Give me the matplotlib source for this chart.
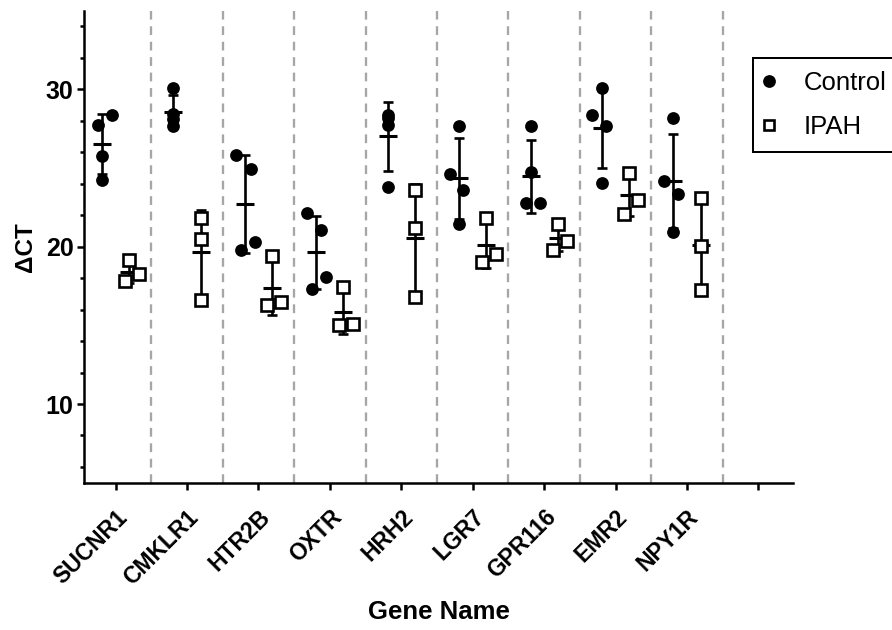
import numpy as np
import matplotlib
matplotlib.use("Agg")
import matplotlib.pyplot as plt
from matplotlib.lines import Line2D
from matplotlib.ticker import MultipleLocator, FixedLocator

plt.rcParams['font.family'] = ['Liberation Sans', 'DejaVu Sans']

# ---------------- data ----------------
genes = ['SUCNR1', 'CMKLR1', 'HTR2B', 'OXTR', 'HRH2', 'LGR7', 'GPR116', 'EMR2', 'NPY1R']

control = [
    [27.71, 28.39, 25.73, 24.25],
    [30.08, 28.45, 28.08, 27.67],
    [25.84, 24.95, 19.81, 20.27],
    [22.13, 21.06, 17.31, 18.05],
    [28.34, 28.17, 27.71, 23.78],
    [27.67, 24.63, 23.63, 21.45],
    [27.67, 24.74, 22.76, 22.76],
    [30.08, 28.34, 27.67, 24.06],
    [28.18, 24.17, 23.36, 20.96],
]
ipah = [
    [19.15, 18.26, 17.79],
    [21.80, 20.49, 16.60],
    [19.38, 16.29, 16.46],
    [17.45, 15.01, 15.08],
    [23.61, 21.19, 16.78],
    [21.83, 19.54, 19.00],
    [21.45, 20.38, 19.79],
    [24.69, 22.99, 22.08],
    [23.08, 20.06, 17.26],
]

# horizontal scatter of individual points (fraction of one category width)
control_jitter = [
    [-0.062, 0.134, 0.0, 0.0],
    [0.0, 0.0, 0.0, 0.0],
    [-0.120, 0.080, -0.050, 0.140],
    [-0.130, 0.070, -0.056, 0.130],
    [0.0, 0.0, 0.0, 0.0],
    [0.0, -0.130, 0.056, 0.0],
    [0.0, 0.0, -0.066, 0.130],
    [0.0, -0.134, 0.062, 0.0],
    [0.0, -0.130, 0.070, 0.0],
]
ipah_jitter = [
    [0.0, 0.133, -0.063],
    [0.0, 0.0, 0.0],
    [0.0, -0.070, 0.131],
    [0.0, -0.056, 0.140],
    [0.0, 0.0, 0.0],
    [0.0, 0.130, -0.062],
    [0.0, 0.134, -0.062],
    [0.0, 0.130, -0.066],
    [0.0, 0.0, 0.0],
]

group_offset = 0.19

# ---------------- figure ----------------
W, H = 892, 630
fig = plt.figure(figsize=(W / 100, H / 100), dpi=100)
ax_left, ax_right, ax_top, ax_bottom = 84, 793, 10.6, 482.7
ax = fig.add_axes([ax_left / W, 1 - ax_bottom / H,
                   (ax_right - ax_left) / W, (ax_bottom - ax_top) / H])

ax.set_xlim(-0.441, 9.483)
ax.set_ylim(5, 35)

# dashed separators
for i in range(len(genes)):
    ax.axvline(i + 0.5, color='#a6a6a6', lw=1.66, ls=(0, (3.8, 2.9)), zorder=1)

lw_err = 1.9
for i, (c, p) in enumerate(zip(control, ipah)):
    for vals, jit, side, kind in ((c, control_jitter[i], -1, 'c'),
                                  (p, ipah_jitter[i], 1, 'p')):
        vals = np.asarray(vals)
        xc = i + side * group_offset
        m = vals.mean()
        sd = vals.std(ddof=1)
        ax.errorbar([xc], [m], yerr=[sd], fmt='none', ecolor='black',
                    elinewidth=lw_err, capsize=3.6, capthick=lw_err, zorder=2)
        ax.plot([xc], [m], ls='none', marker='_', ms=13, mew=2.2,
                color='black', zorder=2)
        xs = xc + np.asarray(jit)
        if kind == 'c':
            ax.plot(xs, vals, ls='none', marker='o', ms=9.2, mfc='black',
                    mec='black', mew=0, zorder=3)
        else:
            ax.plot(xs, vals, ls='none', marker='s', ms=8.3, mfc='white',
                    mec='black', mew=1.9, zorder=3)

# axes styling
for s in ('top', 'right'):
    ax.spines[s].set_visible(False)
for s in ('left', 'bottom'):
    ax.spines[s].set_linewidth(1.8)

ax.xaxis.set_major_locator(FixedLocator(range(len(genes) + 1)))
ax.set_xticklabels(genes + [''])
ax.yaxis.set_major_locator(FixedLocator([10, 20, 30]))
ax.yaxis.set_minor_locator(MultipleLocator(2))

ax.tick_params(axis='both', which='major', length=5, width=1.8)
ax.tick_params(axis='y', which='major', labelsize=18, pad=2.5)
ax.tick_params(axis='x', which='major', labelsize=16.5, pad=11.5)
ax.tick_params(axis='y', which='minor', length=3.2, width=1.8)

for lab in ax.get_yticklabels():
    lab.set_fontweight('bold')
for lab in ax.get_xticklabels():
    lab.set_fontweight('bold')
    lab.set_rotation(45)
    lab.set_ha('right')
    lab.set_va('top')
    lab.set_rotation_mode('anchor')

ax.set_ylabel('ΔCT', fontsize=17.5, fontweight='bold', va='center')
ax.yaxis.set_label_coords((25.5 - ax_left) / (ax_right - ax_left), 0.5)
ax.set_xlabel('Gene Name', fontsize=18.5, fontweight='bold', va='center')
ax.xaxis.set_label_coords(0.5, (ax_bottom - 612) / (ax_bottom - ax_top))

handles = [
    Line2D([], [], ls='none', marker='o', ms=9.2, mfc='black', mec='black', mew=0),
    Line2D([], [], ls='none', marker='s', ms=7.0, mfc='white', mec='black', mew=1.9),
]
leg = ax.legend(handles, ['Control', 'IPAH'], loc='upper left',
                bbox_to_anchor=(752.7 / W, 1 - 58.3 / H),
                bbox_transform=fig.transFigure, borderaxespad=0,
                fontsize=18.5, frameon=True, fancybox=False, framealpha=1,
                edgecolor='black', borderpad=0.51, handlelength=0.27,
                handletextpad=1.22, labelspacing=0.75)
leg.get_frame().set_linewidth(1.44)

fig.savefig('out.png', dpi=100)
